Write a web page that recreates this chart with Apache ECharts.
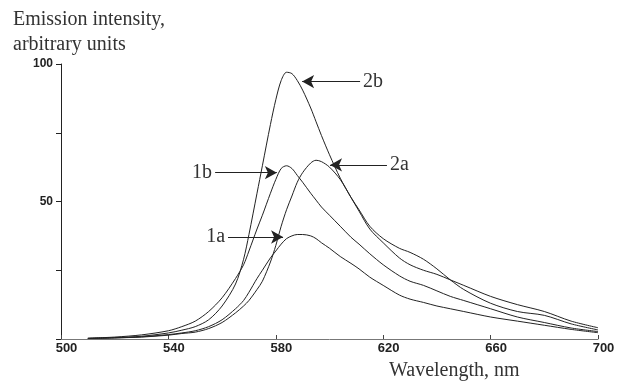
<!DOCTYPE html>
<html>
<head>
<meta charset="utf-8">
<script src="https://cdn.jsdelivr.net/npm/echarts@6/dist/echarts.min.js"></script>
<style>html,body{margin:0;padding:0;background:#fff}#c{width:622px;height:383px}</style>
</head>
<body>
<div id="c"></div>
<script>
var wavelengths = [510,520,530,540,545,550,555,560,565,568,570,573,575,578,580,582,584,586,588,590,593,595,597,600,604,608,611,615,620,626,630,635,640,645,650,660,670,680,690,700];
var curve2b = [0.2,0.5,1.0,2.2,3.2,4.5,7,12,20,29,38,53,63,78,87,94,97,96.5,94,90.5,84,79,74,67,58.5,51.5,46.5,40,35,29.5,27,25,23.5,21.5,19.5,15.5,12.5,10,6.5,4.1];
var curve2a = [0.2,0.4,0.7,1.4,2,2.5,3.8,6,9.5,12,14,18,21,28,34,41,47,52,57,60.5,64,65,64.5,62.5,58,51.5,47,41,36.5,33,31.5,29,25.5,21.5,18,13,10,8.6,5.5,3.3];
var curve1b = [0.3,0.7,1.5,3,4.5,6.5,10,15,22,27,32,40,45,53,58,62,63,62,59.5,57,53,50.5,48,45,41,37,34.5,31,27,23,21,19.5,17.5,15.5,14,11,8,6,4,2.7];
var curve1a = [0.2,0.4,0.8,1.6,2.2,3,4.5,7,11,14,17,22,25,29.5,32,34.5,36.5,37.5,38,38,37.5,36.5,35,33,30,27.5,25.5,22.5,19.5,16,14.5,13.3,12,11,10,8,6.5,5,3.5,2.3];
var xTicks = [500,540,580,620,660,700];
var yLabelsShown = [50,100];
var curveNames = ['2b','2a','1b','1a'];
var arrowFrom = {'2b':[611.4,93.6],'2a':[621.4,63.3],'1b':[557.4,60.5],'1a':[562.2,37.1]};
var arrowTo   = {'2b':[589.8,93.6],'2a':[600.2,63.3],'1b':[580.4,60.5],'1a':[582.7,37.1]};

function pairs(vals){ return wavelengths.map(function(w,i){ return [w, vals[i]]; }); }
var values = {'2b':curve2b,'2a':curve2a,'1b':curve1b,'1a':curve1a};

var series = curveNames.map(function(n){
  return {
    name: n, type: 'line', data: pairs(values[n]), smooth: 0.3, showSymbol: false,
    lineStyle: {color: '#222', width: 1}, animation: false, silent: true,
    markLine: {
      silent: true, animation: false,
      symbol: ['none','arrow'], symbolSize: [10, 12],
      lineStyle: {color: '#222', width: 1, type: 'solid'},
      label: {show: true, position: 'start', formatter: n, color: '#333',
              fontFamily: 'Liberation Serif, serif', fontSize: 20, distance: 3},
      data: [[{coord: arrowFrom[n]}, {coord: arrowTo[n]}]]
    }
  };
});

var chart = echarts.init(document.getElementById('c'), null, {renderer: 'canvas'});
chart.setOption({
  backgroundColor: '#fff',
  animation: false,
  title: [
    {text: 'Emission intensity,\narbitrary units', left: 13, top: 7, padding: 0,
     textStyle: {fontFamily: 'Liberation Serif, serif', fontSize: 20, fontWeight: 'normal', color: '#333', lineHeight: 25}},
    {text: 'Wavelength, nm', left: 389, top: 361, padding: 0,
     textStyle: {fontFamily: 'Liberation Serif, serif', fontSize: 20, fontWeight: 'normal', color: '#333'}}
  ],
  grid: {left: 61, right: 24, top: 64, bottom: 44},
  xAxis: {
    type: 'value', min: xTicks[0], max: xTicks[xTicks.length-1], interval: 40,
    axisLine: {lineStyle: {color: '#777', width: 1}},
    axisTick: {inside: true, length: 4, lineStyle: {color: '#444'}},
    axisLabel: {color: '#222', fontFamily: 'Liberation Sans, Arial, sans-serif', fontSize: 13, fontWeight: 'bold', margin: 3, padding: [0,0,0,11]},
    splitLine: {show: false}
  },
  yAxis: {
    type: 'value', min: 0, max: 100, interval: 25,
    axisLine: {show: true, lineStyle: {color: '#222', width: 1}},
    axisTick: {show: true, inside: false, length: 5, lineStyle: {color: '#222'}},
    axisLabel: {color: '#222', fontFamily: 'Liberation Sans, Arial, sans-serif', fontSize: 12, fontWeight: 'bold', margin: 8,
      formatter: function(v){ return yLabelsShown.indexOf(v) >= 0 ? String(v) : ''; }},
    splitLine: {show: false}
  },
  series: series
});
</script>
</body>
</html>
